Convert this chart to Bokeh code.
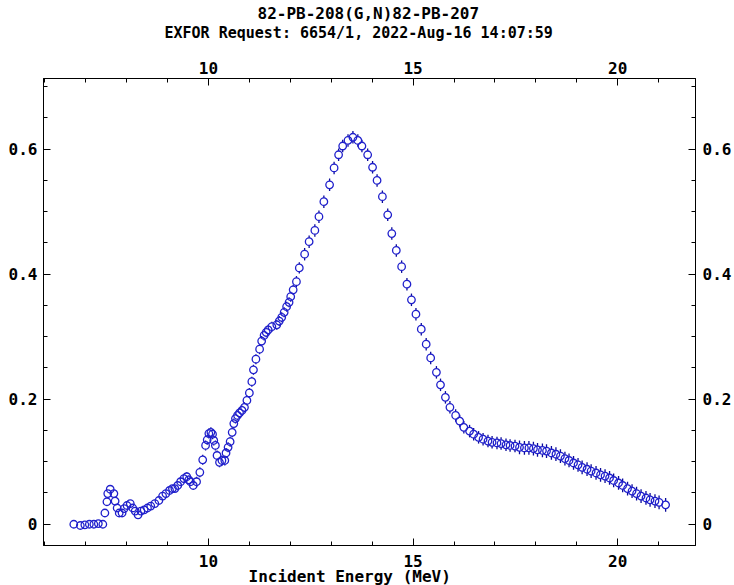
from bokeh.plotting import figure
from bokeh.models import LinearAxis, SingleIntervalTicker, Title, ColumnDataSource
from bokeh.embed import file_html
from bokeh.resources import INLINE

title_line1 = "82-PB-208(G,N)82-PB-207"
title_line2 = "EXFOR Request: 6654/1, 2022-Aug-16 14:07:59"
x_label = "Incident Energy (MeV)"

energy = [6.71, 6.87, 6.98, 7.09, 7.20, 7.31, 7.42, 7.47, 7.52, 7.54,
          7.60, 7.69, 7.72, 7.77, 7.82, 7.89, 7.94, 8.01, 8.09, 8.15,
          8.21, 8.28, 8.35, 8.43, 8.51, 8.59, 8.69, 8.79, 8.88, 8.96,
          9.05, 9.12, 9.18, 9.25, 9.32, 9.40, 9.47, 9.52, 9.56, 9.63,
          9.71, 9.79, 9.86, 9.93, 9.97, 10.01, 10.06, 10.10, 10.13, 10.17,
          10.21, 10.27, 10.33, 10.40, 10.43, 10.48, 10.53, 10.58, 10.62, 10.66,
          10.71, 10.76, 10.82, 10.88, 10.94, 11.00, 11.06, 11.10, 11.16, 11.25,
          11.30, 11.36, 11.41, 11.46, 11.55, 11.67, 11.73, 11.79, 11.85, 11.91,
          11.97, 12.01, 12.07, 12.15, 12.22, 12.35, 12.46, 12.60, 12.70, 12.82,
          12.96, 13.07, 13.18, 13.28, 13.41, 13.53, 13.65, 13.75, 13.89, 14.01,
          14.12, 14.25, 14.38, 14.48, 14.59, 14.72, 14.85, 14.96, 15.07, 15.20,
          15.32, 15.43, 15.57, 15.67, 15.79, 15.90, 16.04, 16.14, 16.24, 16.38,
          16.48, 16.60, 16.71, 16.83, 16.93, 17.05, 17.15, 17.27, 17.37, 17.49,
          17.60, 17.72, 17.83, 17.94, 18.04, 18.16, 18.26, 18.38, 18.49, 18.60,
          18.71, 18.81, 18.92, 19.03, 19.13, 19.25, 19.35, 19.47, 19.58, 19.69,
          19.80, 19.90, 20.02, 20.12, 20.24, 20.35, 20.46, 20.57, 20.69, 20.79,
          20.91, 21.01, 21.17]

cross_section = [0.000, -0.002, -0.001, 0.000, 0.000, 0.001, 0.000, 0.018, 0.036, 0.049,
                 0.056, 0.049, 0.037, 0.026, 0.018, 0.018, 0.025, 0.030, 0.033, 0.026,
                 0.021, 0.015, 0.021, 0.023, 0.026, 0.029, 0.033, 0.038, 0.045, 0.049,
                 0.054, 0.057, 0.057, 0.062, 0.068, 0.073, 0.076, 0.071, 0.068, 0.062,
                 0.068, 0.083, 0.103, 0.126, 0.135, 0.145, 0.147, 0.144, 0.134, 0.126,
                 0.110, 0.099, 0.102, 0.102, 0.114, 0.123, 0.132, 0.147, 0.161, 0.169,
                 0.174, 0.178, 0.182, 0.187, 0.198, 0.210, 0.228, 0.247, 0.264, 0.280,
                 0.293, 0.302, 0.307, 0.311, 0.316, 0.319, 0.325, 0.331, 0.339, 0.348,
                 0.355, 0.364, 0.375, 0.388, 0.410, 0.432, 0.452, 0.470, 0.492, 0.516,
                 0.543, 0.570, 0.591, 0.605, 0.614, 0.619, 0.614, 0.605, 0.591, 0.571,
                 0.550, 0.524, 0.495, 0.465, 0.438, 0.412, 0.384, 0.359, 0.336, 0.312,
                 0.288, 0.266, 0.243, 0.223, 0.203, 0.187, 0.174, 0.165, 0.155, 0.149,
                 0.144, 0.139, 0.136, 0.133, 0.131, 0.130, 0.129, 0.127, 0.126, 0.125,
                 0.123, 0.122, 0.122, 0.121, 0.119, 0.118, 0.117, 0.114, 0.112, 0.109,
                 0.105, 0.102, 0.098, 0.095, 0.091, 0.088, 0.085, 0.082, 0.079, 0.077,
                 0.074, 0.070, 0.066, 0.062, 0.057, 0.053, 0.049, 0.045, 0.042, 0.039,
                 0.037, 0.035, 0.031]

uncertainty = [0.003, 0.003, 0.003, 0.003, 0.003, 0.003, 0.003, 0.004, 0.005, 0.005,
               0.005, 0.005, 0.005, 0.005, 0.005, 0.005, 0.005, 0.005, 0.005, 0.005,
               0.005, 0.005, 0.005, 0.005, 0.005, 0.005, 0.005, 0.005, 0.005, 0.005,
               0.005, 0.005, 0.005, 0.006, 0.007, 0.007, 0.007, 0.007, 0.007, 0.007,
               0.008, 0.008, 0.008, 0.008, 0.008, 0.008, 0.008, 0.008, 0.008, 0.008,
               0.008, 0.008, 0.008, 0.008, 0.008, 0.008, 0.008, 0.008, 0.008, 0.008,
               0.008, 0.008, 0.008, 0.008, 0.008, 0.008, 0.008, 0.008, 0.008, 0.008,
               0.008, 0.008, 0.008, 0.008, 0.008, 0.008, 0.008, 0.008, 0.008, 0.008,
               0.008, 0.008, 0.008, 0.009, 0.009, 0.010, 0.010, 0.010, 0.010, 0.010,
               0.010, 0.010, 0.010, 0.010, 0.010, 0.010, 0.010, 0.010, 0.010, 0.010,
               0.010, 0.010, 0.010, 0.010, 0.010, 0.010, 0.010, 0.010, 0.010, 0.010,
               0.010, 0.010, 0.010, 0.010, 0.010, 0.010, 0.010, 0.010, 0.010, 0.010,
               0.010, 0.010, 0.010, 0.010, 0.010, 0.010, 0.010, 0.010, 0.010, 0.010,
               0.011, 0.011, 0.011, 0.011, 0.011, 0.011, 0.011, 0.011, 0.011, 0.011,
               0.011, 0.011, 0.011, 0.011, 0.011, 0.011, 0.011, 0.011, 0.011, 0.011,
               0.011, 0.011, 0.011, 0.011, 0.011, 0.011, 0.011, 0.011, 0.011, 0.011,
               0.011, 0.011, 0.011]

marker_half = 0.006  # half marker height in data units (bars start at marker edge)

lower_end = [y - e for y, e in zip(cross_section, uncertainty)]
upper_end = [y + e for y, e in zip(cross_section, uncertainty)]
lower_start = [max(y - marker_half, le) for y, le in zip(cross_section, lower_end)]
upper_start = [min(y + marker_half, ue) for y, ue in zip(cross_section, upper_end)]

src = ColumnDataSource(dict(x=energy, y=cross_section, lo=lower_end, hi=upper_end,
                            los=lower_start, his=upper_start))

FONT = "DejaVu Sans Mono"
FS = "16px"
MARK = "#2020cc"
BAR = "#0a0a9a"

p = figure(width=734, height=585, x_range=(5.97, 21.90), y_range=(-0.034, 0.713),
           output_backend="svg", toolbar_location=None,
           min_border_left=43, min_border_right=37, min_border_top=78, min_border_bottom=40)
p.xgrid.visible = False
p.ygrid.visible = False
p.outline_line_color = "#000000"
p.background_fill_color = "white"

p.segment("x", "lo", "x", "los", source=src, line_color=BAR, line_width=1.3)
p.segment("x", "his", "x", "hi", source=src, line_color=BAR, line_width=1.3)
p.scatter("x", "y", source=src, marker="circle", size=7.5, fill_color=None,
          line_color=MARK, line_width=1.3)

xt = SingleIntervalTicker(interval=5, num_minor_ticks=5)
yt = SingleIntervalTicker(interval=0.2, num_minor_ticks=4)

def style(ax):
    ax.axis_line_color = "#000000"
    ax.axis_line_width = 1
    ax.major_tick_in = 7
    ax.major_tick_out = 0
    ax.minor_tick_in = 4
    ax.minor_tick_out = 0
    ax.major_tick_line_color = "#000000"
    ax.minor_tick_line_color = "#000000"
    ax.major_label_text_font = FONT
    ax.major_label_text_font_style = "bold"
    ax.major_label_text_font_size = FS
    ax.major_label_text_color = "#000000"

p.xaxis.ticker = xt
p.yaxis.ticker = yt
style(p.xaxis[0])
style(p.yaxis[0])
p.xaxis.major_label_standoff = 9
p.yaxis.major_label_standoff = 6
p.yaxis.major_label_overrides = {0: "0"}

xlab = Title(text=x_label, align="left", offset=205, text_font=FONT, text_font_style="bold",
             text_font_size=FS, text_color="#000000", standoff=-10)
p.add_layout(xlab, "below")

yright = LinearAxis(ticker=yt, major_label_overrides={0: "0"})
style(yright)
yright.major_label_standoff = 7
p.add_layout(yright, "right")

xtop = LinearAxis(ticker=xt)
style(xtop)
xtop.major_label_standoff = 5
p.add_layout(xtop, "above")

spacer = Title(text=" ", text_font=FONT, text_font_size="13px", standoff=-2)
p.add_layout(spacer, "above")
t2 = Title(text=title_line2, align="left", offset=121, text_font=FONT, text_font_style="bold",
           text_font_size="15px", text_color="#000000", standoff=4)
p.add_layout(t2, "above")
t1 = Title(text=title_line1, align="left", offset=214, text_font=FONT, text_font_style="bold",
           text_font_size=FS, text_color="#000000", standoff=-7)
p.add_layout(t1, "above")

open("out.html", "w").write(file_html(p, INLINE))
